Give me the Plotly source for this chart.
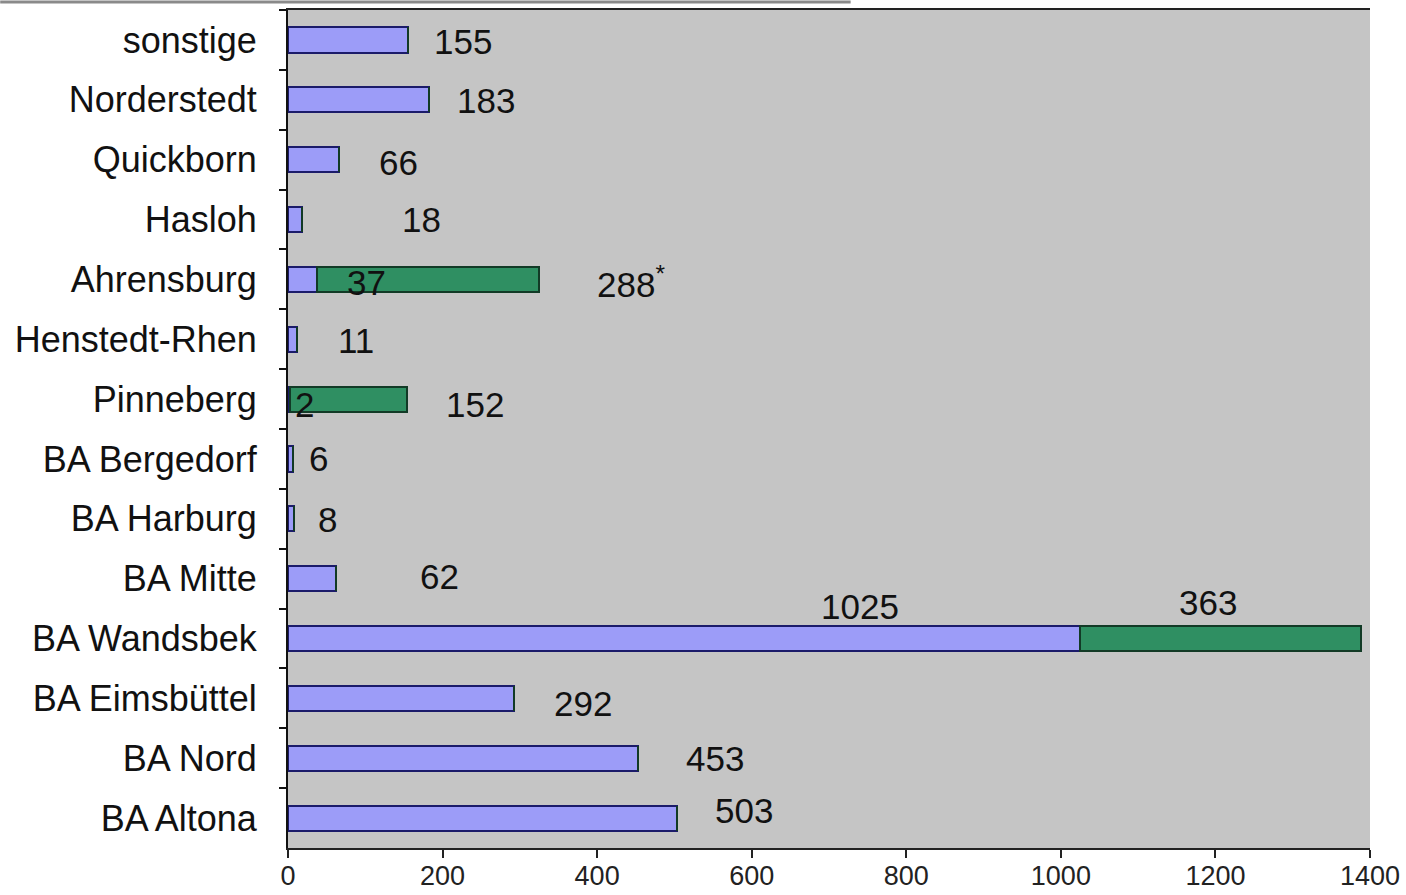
import plotly.graph_objects as go

# ---- data (top to bottom as shown) ----
categories = ["sonstige", "Norderstedt", "Quickborn", "Hasloh", "Ahrensburg",
              "Henstedt-Rhen", "Pinneberg", "BA Bergedorf", "BA Harburg", "BA Mitte",
              "BA Wandsbek", "BA Eimsbüttel", "BA Nord", "BA Altona"]
series_a = [155, 183, 66, 18, 37, 11, 2, 6, 8, 62, 1025, 292, 453, 503]
series_b = [0, 0, 0, 0, 288, 0, 152, 0, 0, 0, 363, 0, 0, 0]
x_ticks = [0, 200, 400, 600, 800, 1000, 1200, 1400]

# ---- label styling (pixel nudges, not data) ----
gap_px = [24, 26, 38, 98, 56, 39, 37, 14, 22, 82, 0, 38, 46, 36]
dy_px = [-2, -1, -3, 0, -3, -1, -5, 0, -1, 2, 0, -5, 0, 8]

BLUE = "#9C9CF8"
GREEN = "#2F8F62"
FONT = "Liberation Sans, Arial, sans-serif"

fig = go.Figure()
fig.add_trace(go.Bar(y=categories, x=series_a, orientation="h",
                     marker=dict(color=BLUE, line=dict(color="#1B1B6A", width=2)),
                     width=0.42, hoverinfo="x+y"))
fig.add_trace(go.Bar(y=categories, x=series_b, orientation="h",
                     marker=dict(color=GREEN, line=dict(color="#123A26", width=2)),
                     width=0.42, hoverinfo="x+y"))

ann = []
lab_font = dict(family=FONT, size=35, color="#111111")
for i, c in enumerate(categories):
    a, b = series_a[i], series_b[i]
    if c == "BA Wandsbek":
        ann.append(dict(x=a, y=c, text=str(a), showarrow=False, xanchor="center",
                        xshift=-220, yshift=32, font=lab_font))
        ann.append(dict(x=a + b, y=c, text=str(b), showarrow=False, xanchor="center",
                        xshift=-153, yshift=36, font=lab_font))
    elif b > 0:
        inner_gap = 28 if a > 10 else 3
        ann.append(dict(x=a, y=c, text=str(a), showarrow=False, xanchor="left",
                        xshift=inner_gap, yshift=dy_px[i], font=lab_font))
        txt = str(b) + ("<sup>*</sup>" if c == "Ahrensburg" else "")
        ann.append(dict(x=a + b, y=c, text=txt, showarrow=False, xanchor="left",
                        xshift=gap_px[i], yshift=dy_px[i], font=lab_font))
    else:
        ann.append(dict(x=a, y=c, text=str(a), showarrow=False, xanchor="left",
                        xshift=gap_px[i], yshift=dy_px[i], font=lab_font))

fig.update_layout(
    barmode="stack",
    width=1406, height=895,
    margin=dict(l=288, r=36, t=10, b=47, pad=0, autoexpand=False),
    paper_bgcolor="white",
    plot_bgcolor="#C5C5C5",
    showlegend=False,
    annotations=ann,
    font=dict(family=FONT, color="#111111"),
    shapes=[dict(type="line", xref="paper", yref="paper", x0=-0.266, x1=0.52,
                 y0=1.0095, y1=1.0095, line=dict(color="#8A8A8A", width=3))],
)
fig.update_xaxes(range=[0, 1400], tickvals=x_ticks, ticktext=[str(t) for t in x_ticks],
                 showgrid=False, zeroline=False, showline=True, linecolor="#222222",
                 linewidth=2, mirror=True, ticks="outside", ticklen=8, tickwidth=2,
                 tickcolor="#222222", automargin=False, ticklabelstandoff=-5,
                 tickfont=dict(family=FONT, size=27, color="#222222"))
fig.update_yaxes(range=[13.5, -0.5], showgrid=False, zeroline=False, showline=True,
                 linecolor="#111111", linewidth=2, ticks="outside", ticklen=7,
                 tickwidth=2, tickcolor="#111111", tickson="boundaries", automargin=False,
                 tickfont=dict(family=FONT, size=36, color="#111111"), ticklabelstandoff=22)

fig.write_html("out.html", config={"displayModeBar": False},
               post_script="document.body.style.margin='0px';document.body.style.overflow='hidden';")
